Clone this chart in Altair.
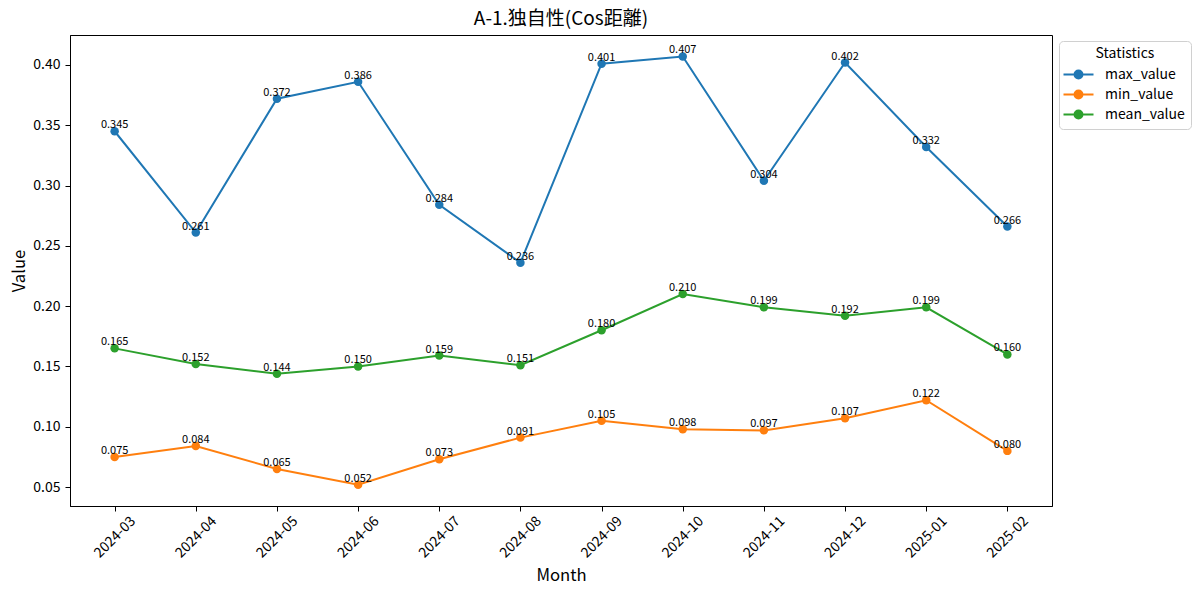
import altair as alt
import pandas as pd

chart_title = "A-1.独自性(Cos距離)"
months = ["2024-03", "2024-04", "2024-05", "2024-06", "2024-07", "2024-08",
          "2024-09", "2024-10", "2024-11", "2024-12", "2025-01", "2025-02"]
max_value = [0.345, 0.261, 0.372, 0.386, 0.284, 0.236, 0.401, 0.407, 0.304, 0.402, 0.332, 0.266]
min_value = [0.075, 0.084, 0.065, 0.052, 0.073, 0.091, 0.105, 0.098, 0.097, 0.107, 0.122, 0.080]
mean_value = [0.165, 0.152, 0.144, 0.150, 0.159, 0.151, 0.180, 0.210, 0.199, 0.192, 0.199, 0.160]
series_names = ["max_value", "min_value", "mean_value"]
series_colors = ["#1f77b4", "#ff7f0e", "#2ca02c"]
y_ticks = [0.05, 0.10, 0.15, 0.20, 0.25, 0.30, 0.35, 0.40]

rows = []
for name, vals in zip(series_names, [max_value, min_value, mean_value]):
    for m, v in zip(months, vals):
        rows.append({"Month": m, "Statistics": name, "Value": v, "label": f"{v:.3f}"})
df = pd.DataFrame(rows)

FONT = "Noto Sans CJK JP"
W, H = 982, 471

x = alt.X("Month:N", sort=months,
          scale=alt.Scale(type="point", padding=0.55),
          axis=alt.Axis(title="Month", labelAngle=-45, labelAlign="center",
                        labelBaseline="middle", labelPadding=26,
                        titleY=74, titleBaseline="alphabetic"))
y = alt.Y("Value:Q",
          scale=alt.Scale(domain=[0.0343, 0.4248], nice=False, zero=False),
          axis=alt.Axis(title="Value", values=y_ticks, format=".2f",
                        labelPadding=5, titleX=-46, titleBaseline="alphabetic"))


def ring(r):
    return f"M{-r},0A{r},{r},0,1,0,{r},0A{r},{r},0,1,0,{-r},0"


legend_symbol = "M-2,0H2" + ring(0.53) + ring(0.3) + ring(0.1)

color = alt.Color("Statistics:N",
                  scale=alt.Scale(domain=series_names, range=series_colors),
                  sort=series_names,
                  legend=alt.Legend(title="Statistics", orient="none",
                                    legendX=989, legendY=6,
                                    symbolType=legend_symbol, symbolSize=225,
                                    symbolStrokeWidth=2, symbolOpacity=1,
                                    symbolOffset=5))

base = alt.Chart(df)
lines = base.mark_line(strokeWidth=2).encode(x=x, y=y, color=color)
points = base.mark_point(filled=True, size=72, opacity=1).encode(x=x, y=y, color=color)
labels = base.mark_text(fontSize=11, font=FONT, color="black", dy=-3,
                        baseline="alphabetic", align="center").encode(
    x=x, y=y, text="label:N")

title_layer = alt.Chart(pd.DataFrame({"t": [chart_title]})).mark_text(
    font=FONT, fontSize=19, color="black", align="center",
    baseline="alphabetic").encode(
    text="t:N", x=alt.value(W / 2), y=alt.value(-10))

chart = alt.layer(lines, points, labels, title_layer).properties(
    width=W, height=H,
    autosize=alt.AutoSizeParams(type="none"),
    padding={"left": 62, "top": 27, "right": 140, "bottom": 80},
).configure(font=FONT).configure_view(
    stroke="black", strokeWidth=1
).configure_axis(
    grid=False, domainColor="black", domainWidth=1, tickColor="black",
    tickWidth=1, tickSize=5, labelFont=FONT, labelFontSize=14,
    labelColor="black", titleFont=FONT, titleFontSize=16.7,
    titleFontWeight="normal", titleColor="black", labelOverlap=False,
    labelFlush=False
).configure_legend(
    padding=6, strokeColor="#d0d0d0", fillColor="white", cornerRadius=4,
    titleFont=FONT, titleFontSize=14, titleFontWeight="normal",
    titleColor="black", titleAnchor="middle", labelFont=FONT,
    labelFontSize=14, labelColor="black", labelOffset=18, rowPadding=3
)

chart.save("out.html", embed_options={"renderer": "svg", "actions": False})
